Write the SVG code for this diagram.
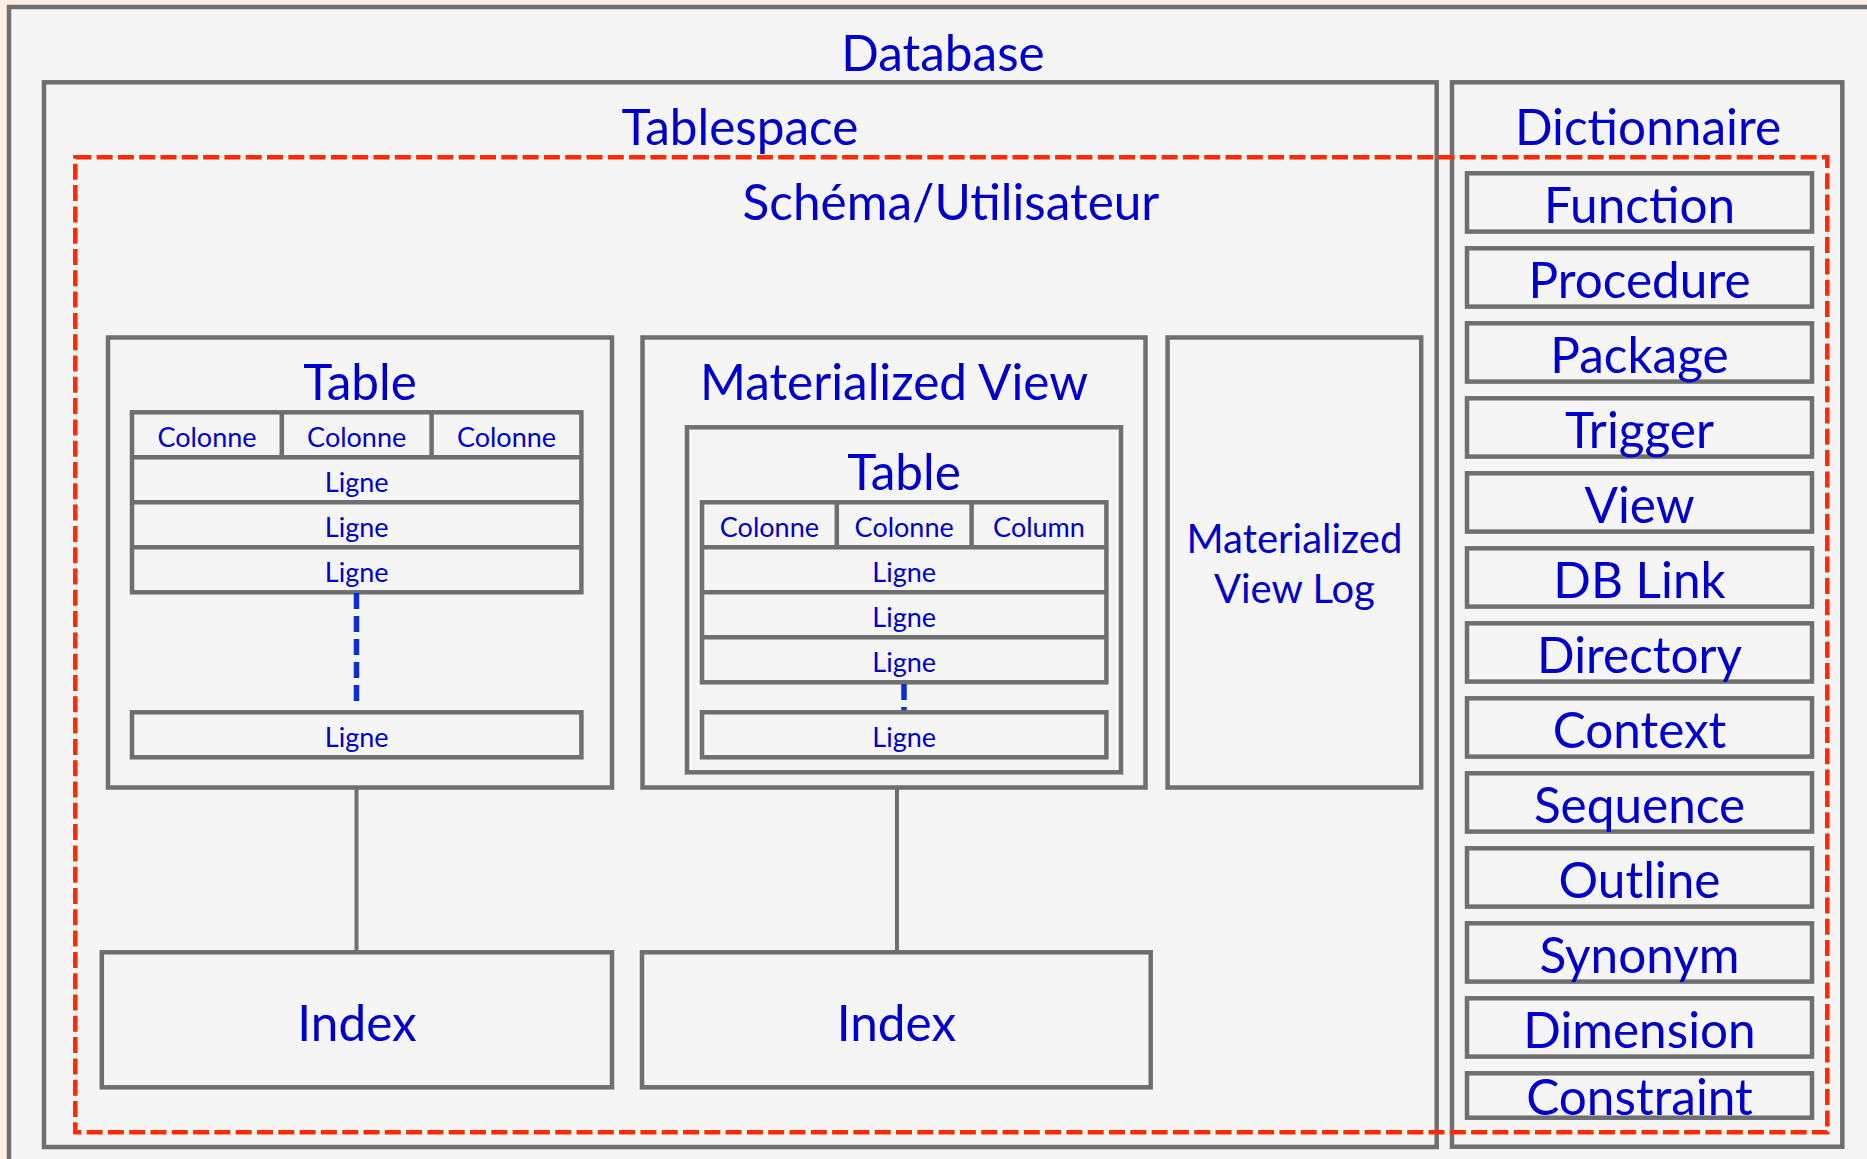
<svg xmlns="http://www.w3.org/2000/svg" width="1867" height="1159" viewBox="0 0 1867 1159">
  <style>
    .box { fill: none; stroke: #6f6f6f; stroke-width: 4.5; }
    .frame { fill: #f5f5f5; stroke: #6f6f6f; stroke-width: 4.5; }
    .link { stroke: #6f6f6f; stroke-width: 4; fill: none; }
    .dots { stroke: #0a2fd0; stroke-width: 5.5; stroke-dasharray: 16 7; fill: none; }
    .scope { fill: none; stroke: #ff2a00; stroke-width: 4.5; stroke-dasharray: 16 5.3; }
    text { font-family: Lato, "Open Sans", "Liberation Sans", sans-serif; fill: #0000cc; text-anchor: middle; }
    .t1 { font-size: 49.5px; }
    .t2 { font-size: 40px; }
    .t3 { font-size: 27px; }
  </style>

  <!-- page -->
  <rect x="0" y="0" width="1867" height="1159" fill="#fdeee3"/>

  <!-- database container -->
  <g id="database">
    <rect class="frame" x="9" y="7" width="1900" height="1200"/>
    <text class="t1" x="943" y="71">Database</text>
  </g>

  <!-- tablespace container -->
  <g id="tablespace">
    <rect class="box" x="44" y="82.3" width="1392.7" height="1064.7"/>
    <text class="t1" x="740" y="145">Tablespace</text>
  </g>

  <!-- data dictionary -->
  <g id="dictionnaire">
    <rect class="box" x="1452" y="82.3" width="390.3" height="1064.4"/>
    <text class="t1" x="1648" y="145">Dictionnaire</text>
  </g>

  <g id="dict-function"><rect class="box" x="1467" y="173.3" width="345" height="58.3"/><text class="t1" x="1639.5" y="223.3">Function</text></g>
  <g id="dict-procedure"><rect class="box" x="1467" y="248.3" width="345" height="58.3"/><text class="t1" x="1639.5" y="298.3">Procedure</text></g>
  <g id="dict-package"><rect class="box" x="1467" y="323.3" width="345" height="58.3"/><text class="t1" x="1639.5" y="373.3">Package</text></g>
  <g id="dict-trigger"><rect class="box" x="1467" y="398.3" width="345" height="58.3"/><text class="t1" x="1639.5" y="448.3">Trigger</text></g>
  <g id="dict-view"><rect class="box" x="1467" y="473.3" width="345" height="58.3"/><text class="t1" x="1639.5" y="523.3">View</text></g>
  <g id="dict-dblink"><rect class="box" x="1467" y="548.3" width="345" height="58.3"/><text class="t1" x="1639.5" y="598.3">DB Link</text></g>
  <g id="dict-directory"><rect class="box" x="1467" y="623.3" width="345" height="58.3"/><text class="t1" x="1639.5" y="673.3">Directory</text></g>
  <g id="dict-context"><rect class="box" x="1467" y="698.3" width="345" height="58.3"/><text class="t1" x="1639.5" y="748.3">Context</text></g>
  <g id="dict-sequence"><rect class="box" x="1467" y="773.3" width="345" height="58.3"/><text class="t1" x="1639.5" y="823.3">Sequence</text></g>
  <g id="dict-outline"><rect class="box" x="1467" y="848.3" width="345" height="58.3"/><text class="t1" x="1639.5" y="898.3">Outline</text></g>
  <g id="dict-synonym"><rect class="box" x="1467" y="923.3" width="345" height="58.3"/><text class="t1" x="1639.5" y="973.3">Synonym</text></g>
  <g id="dict-dimension"><rect class="box" x="1467" y="998.3" width="345" height="58.3"/><text class="t1" x="1639.5" y="1048.3">Dimension</text></g>
  <g id="dict-constraint"><rect class="box" x="1467" y="1073.3" width="345" height="44.4"/><text class="t1" x="1639.5" y="1115">Constraint</text></g>

  <!-- schema / user boundary -->
  <g id="schema">
    <rect class="scope" x="75.3" y="157.3" width="1752" height="975"/>
    <text class="t1" x="951" y="220">Schéma/Utilisateur</text>
  </g>

  <!-- table -->
  <g id="table">
    <rect class="box" x="108" y="337.5" width="504" height="450"/>
    <text class="t1" x="360" y="400">Table</text>
    <rect class="box" x="132" y="412.3" width="449.4" height="180"/>
    <path class="box" d="M132 457.3H581.4M132 502.3H581.4M132 547.3H581.4M281.8 412.3V457.3M431.6 412.3V457.3"/>
    <text class="t3" x="207" y="447.3">Colonne</text>
    <text class="t3" x="356.7" y="447.3">Colonne</text>
    <text class="t3" x="506.5" y="447.3">Colonne</text>
    <text class="t3" x="356.7" y="491.7">Ligne</text>
    <text class="t3" x="356.7" y="536.7">Ligne</text>
    <text class="t3" x="356.7" y="581.7">Ligne</text>
    <path class="dots" d="M356.5 593V706"/>
    <rect class="box" x="132" y="712.3" width="449.4" height="45"/>
    <text class="t3" x="356.7" y="746.7">Ligne</text>
  </g>

  <!-- materialized view -->
  <g id="materialized-view">
    <rect class="box" x="642.5" y="337.5" width="503" height="450"/>
    <text class="t1" x="894" y="400">Materialized View</text>
    <rect class="box" x="687" y="427.3" width="434" height="345"/>
    <text class="t1" x="904" y="490">Table</text>
    <rect class="box" x="702" y="502.3" width="404.4" height="180"/>
    <path class="box" d="M702 547.3H1106.4M702 592.3H1106.4M702 637.3H1106.4M836.8 502.3V547.3M971.6 502.3V547.3"/>
    <text class="t3" x="769.4" y="537.3">Colonne</text>
    <text class="t3" x="904.2" y="537.3">Colonne</text>
    <text class="t3" x="1039" y="537.3">Column</text>
    <text class="t3" x="904.2" y="581.7">Ligne</text>
    <text class="t3" x="904.2" y="626.7">Ligne</text>
    <text class="t3" x="904.2" y="671.7">Ligne</text>
    <path class="dots" d="M904 684V712"/>
    <rect class="box" x="702" y="712.3" width="404.4" height="45"/>
    <text class="t3" x="904.2" y="746.7">Ligne</text>
  </g>

  <!-- materialized view log -->
  <g id="mview-log">
    <rect class="box" x="1167.6" y="337.5" width="253.6" height="450"/>
    <text class="t2" x="1294.4" y="553.3">Materialized</text>
    <text class="t2" x="1294.4" y="603.3">View Log</text>
  </g>

  <!-- indexes -->
  <g id="index-table">
    <rect class="box" x="101.8" y="952.3" width="510.2" height="135"/>
    <text class="t1" x="357" y="1041">Index</text>
  </g>
  <g id="index-mview">
    <rect class="box" x="642" y="952.3" width="508.7" height="135"/>
    <text class="t1" x="896.4" y="1041">Index</text>
  </g>

  <!-- connectors -->
  <g id="connectors">
    <line class="link" x1="356.5" y1="787.5" x2="356.5" y2="952.3"/>
    <line class="link" x1="897" y1="787.5" x2="897" y2="952.3"/>
  </g>
</svg>
